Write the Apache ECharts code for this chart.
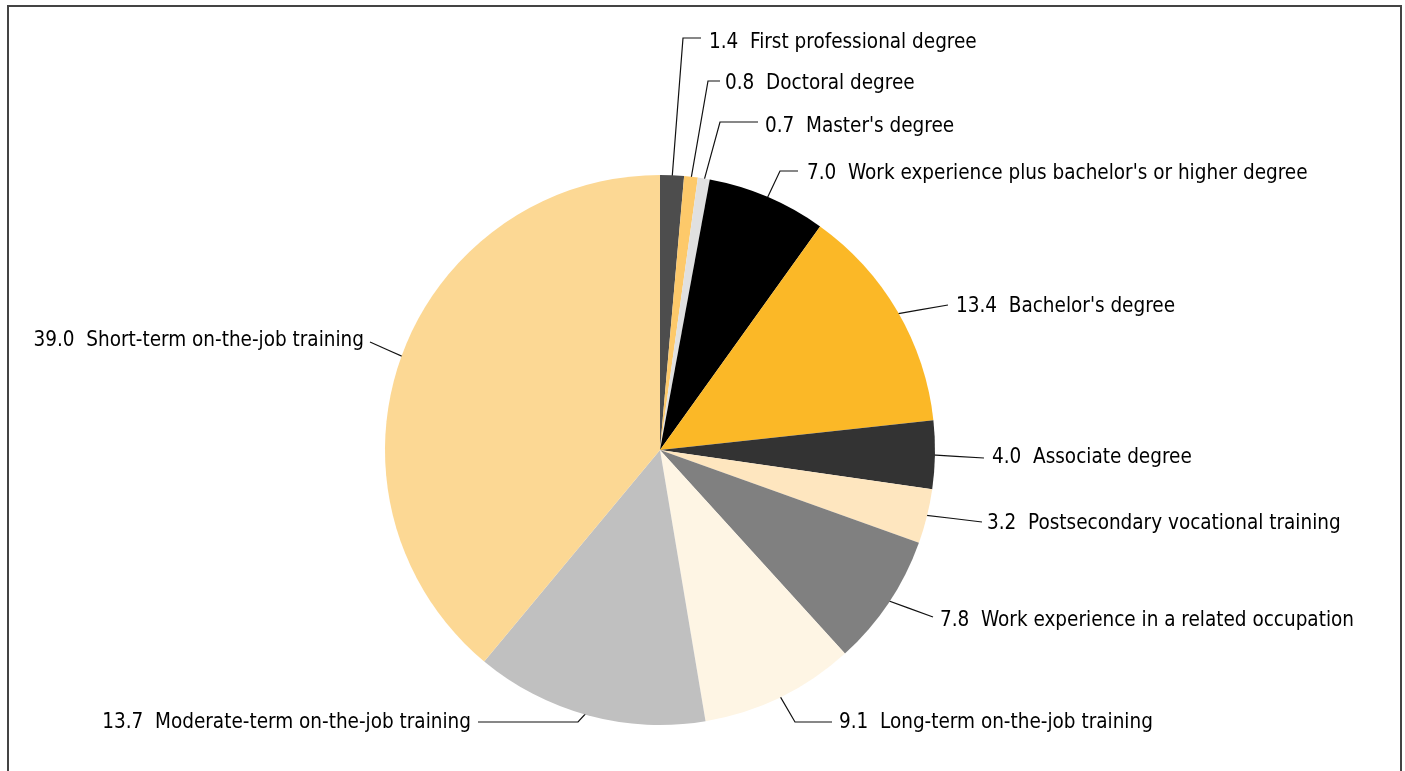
<!DOCTYPE html>
<html>
<head>
<meta charset="utf-8">
<script src="https://cdn.jsdelivr.net/npm/echarts@6/dist/echarts.min.js"></script>
<style>
html,body{margin:0;padding:0;background:#fff;}
#chart{width:1405px;height:771px;}
</style>
</head>
<body>
<div id="chart"></div>
<script>
// Data
const categories = [
  "First professional degree",
  "Doctoral degree",
  "Master's degree",
  "Work experience plus bachelor's or higher degree",
  "Bachelor's degree",
  "Associate degree",
  "Postsecondary vocational training",
  "Work experience in a related occupation",
  "Long-term on-the-job training",
  "Moderate-term on-the-job training",
  "Short-term on-the-job training"
];
const values = [1.4, 0.8, 0.7, 7.0, 13.4, 4.0, 3.2, 7.8, 9.1, 13.7, 39.0];

// Styles
const colors = ["#4d4d4d", "#fdc96a", "#e0e0e0", "#000000", "#fbb827", "#333333",
                "#fee6bf", "#808080", "#fef5e4", "#c0c0c0", "#fcd894"];

// Label layout (annotation placement)
const labelPos = [
  {x: 709, y: 43, align: 'left', bend: [683, 38], end: [701, 38]},
  {x: 725, y: 84, align: 'left', bend: [708, 81], end: [720, 81]},
  {x: 765, y: 127, align: 'left', bend: [720, 122], end: [758, 122]},
  {x: 807, y: 174, align: 'left', bend: [780, 171], end: [798, 171]},
  {x: 956, y: 307, align: 'left', bend: null, end: [948, 305]},
  {x: 992, y: 458, align: 'left', bend: null, end: [984, 458]},
  {x: 987, y: 524, align: 'left', bend: null, end: [982, 522]},
  {x: 940, y: 621, align: 'left', bend: null, end: [933, 617]},
  {x: 839, y: 723, align: 'left', bend: [795, 722], end: [832, 722]},
  {x: 471, y: 723, align: 'right', bend: [578, 722], end: [478, 722]},
  {x: 364, y: 341, align: 'right', bend: null, end: [370, 342]}
];

const CX = 660, CY = 450, R = 275;

const chart = echarts.init(document.getElementById('chart'), null, {renderer: 'canvas'});
const option = {
  animation: false,
  backgroundColor: '#ffffff',
  graphic: [{
    type: 'rect',
    shape: {x: 8, y: 6, width: 1393, height: 800},
    style: {fill: 'none', stroke: '#444444', lineWidth: 2},
    silent: true
  }],
  series: [{
    type: 'pie',
    center: [CX, CY],
    radius: R,
    startAngle: 90,
    clockwise: true,
    avoidLabelOverlap: false,
    data: categories.map((c, i) => ({name: c, value: values[i], itemStyle: {color: colors[i]}})),
    itemStyle: {borderWidth: 0},
    label: {
      show: true,
      position: 'outside',
      formatter: p => p.value.toFixed(1) + '  ' + p.name,
      fontFamily: '"DejaVu Sans Condensed", sans-serif',
      fontSize: 20.5,
      color: '#000'
    },
    labelLine: {show: true, smooth: false, lineStyle: {color: '#111', width: 1.2}},
    emphasis: {disabled: true},
    labelLayout: function (params) {
      const lp = labelPos[params.dataIndex];
      const s0 = params.labelLinePoints ? params.labelLinePoints[0] : [CX, CY];
      const dx = s0[0] - CX, dy = s0[1] - CY;
      const d = Math.sqrt(dx * dx + dy * dy) || 1;
      const start = [CX + dx / d * (d - 7), CY + dy / d * (d - 7)];
      const bend = lp.bend || [(start[0] + lp.end[0]) / 2, (start[1] + lp.end[1]) / 2];
      return {
        x: lp.x, y: lp.y, align: lp.align, verticalAlign: 'middle',
        labelLinePoints: [start, bend, lp.end]
      };
    }
  }]
};
chart.setOption(option);
</script>
</body>
</html>
